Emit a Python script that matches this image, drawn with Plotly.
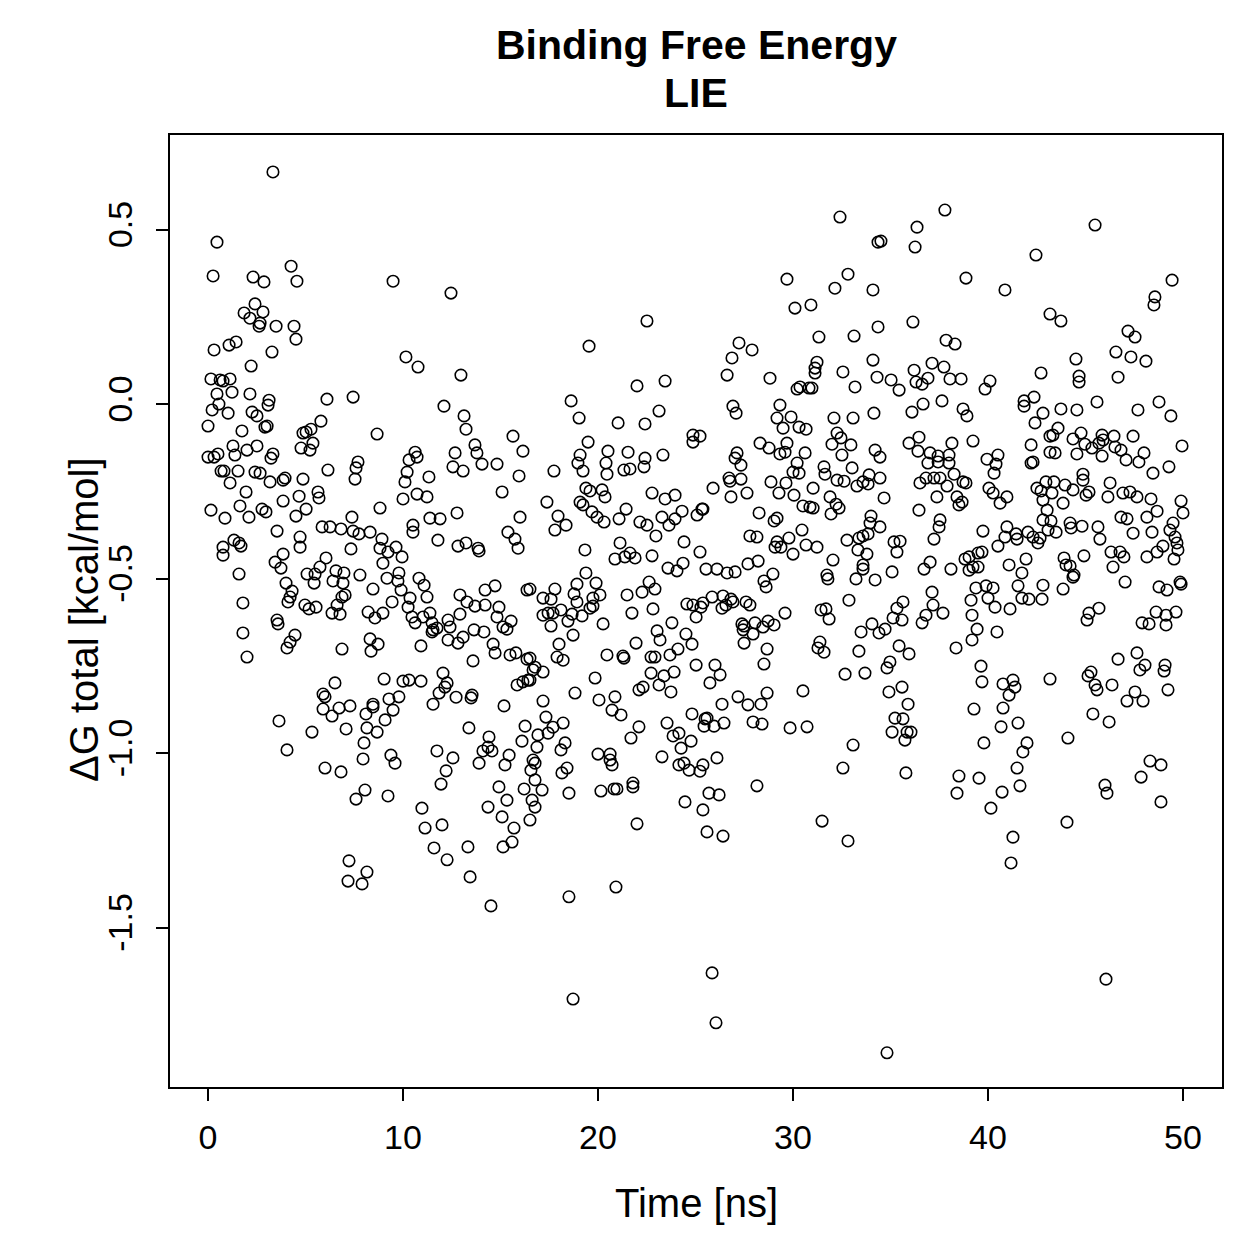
import plotly.graph_objects as go

# ---- data: (time [ns], dG total [kcal/mol]), grouped by time/energy region ----
time_a = [3.33,0.46,0.26,2.31,2.87,4.26,4.56,2.41,1.85,2.82,2.15,2.67,2.62,3.49,4.41,4.51,0.31,1.08,1.44,3.28,
          2.21,0.15,0.62,0.77,1.13,0.46,1.23,2.15,3.13,3.08,6.10,7.44,0.21,0.56,1.03,2.26,2.51,2.92,3.03,5.79,
          0.0,1.74,4.87,5.03,5.28,5.38,4.77,5.23,0.0,0.31,0.51,1.28,1.38,2.0,2.51,3.23,3.33,7.69,7.59,7.54,
          0.67,0.82,1.54,2.41,2.67,1.13,3.18,3.85,3.95,4.87,6.15,1.95,4.67,3.85,5.64,5.69,0.15,0.87,1.64,2.10,
          2.77,2.97,4.51,5.03,7.38,3.54,4.72,4.72,5.85,6.26,6.82,7.44,7.74,8.31,0.77,0.77,1.33,1.59,1.69,7.33,
          1.59,3.44,3.85,3.74,4.0,4.31,4.21,4.10,1.79,5.08,5.49,5.44,5.74,6.05,6.56,6.41,6.97,6.92,7.03,6.87,7.79]
dg_a = [0.665,0.464,0.367,0.364,0.350,0.395,0.352,0.287,0.261,0.264,0.246,0.232,0.223,0.223,0.223,0.186,0.155,0.169,0.178,0.149,
        0.109,0.072,0.069,0.066,0.072,0.029,0.034,0.029,0.011,-0.003,0.014,0.020,-0.017,0.0,-0.026,-0.023,-0.034,-0.066,-0.063,-0.049,
        -0.063,-0.077,-0.083,-0.080,-0.072,-0.112,-0.126,-0.132,-0.152,-0.152,-0.143,-0.120,-0.146,-0.132,-0.120,-0.155,-0.143,-0.166,-0.183,-0.215,
        -0.192,-0.192,-0.192,-0.195,-0.198,-0.226,-0.223,-0.218,-0.212,-0.215,-0.189,-0.252,-0.264,-0.278,-0.252,-0.269,-0.304,-0.327,-0.292,-0.324,
        -0.301,-0.309,-0.321,-0.301,-0.324,-0.364,-0.381,-0.410,-0.352,-0.352,-0.358,-0.364,-0.372,-0.367,-0.410,-0.433,-0.390,-0.398,-0.407,-0.415,
        -0.487,-0.453,-0.430,-0.470,-0.513,-0.536,-0.553,-0.567,-0.570,-0.487,-0.487,-0.513,-0.467,-0.441,-0.478,-0.507,-0.484,-0.513,-0.547,-0.553,-0.490]

time_b = [4.97,5.18,5.54,6.36,6.62,6.77,3.54,3.59,1.79,2.0,4.46,4.21,4.05,6.87,6.51,5.90,6.0,5.90,6.36,6.72,
          7.28,3.64,5.33,7.08,4.05,6.0,6.82,7.59,7.23,7.18,7.90,8.15]
dg_b = [-0.576,-0.587,-0.582,-0.599,-0.576,-0.602,-0.619,-0.630,-0.656,-0.725,-0.662,-0.682,-0.699,-0.702,-0.799,-0.831,-0.839,-0.874,-0.894,-0.871,
        -0.865,-0.908,-0.940,-0.931,-0.991,-1.043,-1.054,-1.132,-1.309,-1.367,-1.375,-1.341]

time_c = [9.49,12.46,10.15,10.77,12.97,12.10,13.13,13.23,8.67,13.69,13.79,14.05,14.82,15.64,16.15,15.95,15.08,16.0,10.62,10.72,
          10.31,10.21,10.10,11.33,12.67,12.56,13.08,10.0,10.72,11.23,8.82,11.38,11.90,12.77,10.51,10.51,11.79,8.92,8.82,9.23,
          9.64,9.95,8.97,12.82,13.23,13.85,13.90,15.38,15.74,15.90,8.46,9.18,9.79,9.74,9.90,10.36,10.82,11.08,11.23,12.92,
          13.28,13.69,14.21,14.72,14.21,14.92,16.36]
dg_c = [0.352,0.318,0.135,0.106,0.083,-0.006,-0.034,-0.072,-0.086,-0.117,-0.140,-0.172,-0.172,-0.092,-0.135,-0.206,-0.252,-0.324,-0.138,-0.152,
        -0.160,-0.195,-0.223,-0.209,-0.140,-0.180,-0.192,-0.272,-0.258,-0.266,-0.298,-0.327,-0.329,-0.312,-0.347,-0.367,-0.390,-0.387,-0.413,-0.424,
        -0.410,-0.438,-0.456,-0.407,-0.398,-0.413,-0.421,-0.367,-0.387,-0.413,-0.530,-0.499,-0.484,-0.507,-0.533,-0.556,-0.499,-0.519,-0.553,-0.547,
        -0.567,-0.579,-0.533,-0.521,-0.576,-0.582,-0.533]

time_d = [8.21,8.56,8.97,9.44,10.26,10.46,10.62,11.03,11.38,11.49,11.54,11.49,11.74,12.31,12.41,12.92,14.82,15.13,15.54,15.33,
          8.31,8.72,8.36,10.92,12.31,12.82,13.08,13.64,14.15,14.62,14.72,15.49,15.79,16.36,16.67,13.59,9.03,10.0,10.31,10.92,
          12.05,12.26,12.15,11.85,11.54,12.72,13.54,13.49,15.18,15.85,16.15,16.41,9.79,9.28,8.46,8.46,8.10,9.49,9.08,8.15,
          8.67,8.0,7.95,9.38,9.59,8.05,9.23,11.74,12.56,12.21,11.95,13.38,14.41,14.36,14.10,14.56,13.90,15.23,15.44,16.26,
          16.10,16.92,16.87,16.67,16.56,16.77,14.92,15.33,16.21,16.62,16.77,16.51,14.36,15.08,15.69,15.59,15.13,10.97,11.13,12.0,
          11.59,12.26,13.33,13.44,14.51]
dg_d = [-0.596,-0.613,-0.599,-0.567,-0.582,-0.610,-0.627,-0.610,-0.599,-0.627,-0.647,-0.653,-0.642,-0.619,-0.639,-0.602,-0.610,-0.639,-0.622,-0.645,
        -0.673,-0.688,-0.708,-0.693,-0.676,-0.685,-0.668,-0.647,-0.653,-0.688,-0.713,-0.719,-0.713,-0.731,-0.762,-0.736,-0.788,-0.794,-0.791,-0.794,
        -0.771,-0.799,-0.811,-0.828,-0.860,-0.840,-0.834,-0.842,-0.865,-0.805,-0.796,-0.791,-0.839,-0.845,-0.860,-0.868,-0.888,-0.877,-0.905,-0.928,
        -0.940,-0.971,-1.017,-1.006,-1.029,-1.106,-1.123,-0.994,-1.014,-1.051,-1.089,-0.928,-0.954,-0.983,-0.994,-0.994,-1.029,-1.034,-1.006,-0.923,
        -0.966,-0.948,-0.983,-1.020,-1.049,-1.077,-1.097,-1.135,-1.103,-1.135,-1.155,-1.192,-1.155,-1.183,-1.215,-1.255,-1.269,-1.158,-1.215,-1.206,
        -1.272,-1.306,-1.269,-1.355,-1.438]

time_e = [22.51,19.54,22.0,23.44,18.62,19.03,21.03,22.41,23.13,24.87,24.87,19.49,19.08,18.97,19.23,17.74,20.51,20.41,20.46,21.54,
          21.33,21.64,22.41,22.36,23.33,19.38,19.59,20.21,20.36,19.08,19.23,17.38,17.95,18.36,17.79,19.69,19.95,20.31,21.44,21.08,
          22.15,22.51,22.77,23.44,23.95,23.28,23.64,23.95,24.31,25.08,25.33,22.97,19.33,21.13,21.64,21.38,21.90,20.87,22.77,24.41,
          25.23,23.59,24.05,24.36,19.38,18.92,19.90,17.79,17.18,17.59,16.51,18.77,19.74,20.10,21.49,22.26,22.62,22.92]
dg_e = [0.238,0.166,0.052,0.066,0.009,-0.040,-0.054,-0.057,-0.020,-0.089,-0.109,-0.109,-0.146,-0.169,-0.192,-0.192,-0.135,-0.169,-0.201,-0.138,
        -0.189,-0.186,-0.155,-0.180,-0.146,-0.241,-0.249,-0.246,-0.266,-0.281,-0.289,-0.281,-0.321,-0.347,-0.361,-0.309,-0.324,-0.338,-0.301,-0.329,
        -0.338,-0.347,-0.255,-0.272,-0.261,-0.324,-0.347,-0.329,-0.307,-0.318,-0.301,-0.378,-0.418,-0.398,-0.427,-0.438,-0.441,-0.444,-0.435,-0.395,
        -0.424,-0.470,-0.478,-0.456,-0.484,-0.516,-0.513,-0.530,-0.556,-0.559,-0.530,-0.544,-0.556,-0.547,-0.547,-0.539,-0.510,-0.530]

time_f = [17.18,17.44,17.69,18.10,17.59,18.67,18.92,18.46,19.18,19.59,19.74,20.26,21.74,22.82,24.56,24.87,25.28,25.03,23.79,23.03,
          23.18,21.95,24.51,24.82,24.10,23.69,22.72,22.92,20.46,21.28,21.33,18.0,18.72,17.90,18.21,16.51,16.77,17.18,16.51,19.85,
          18.82,20.05,20.87,20.72,21.18,22.31,22.10,22.72,23.13,23.38,23.90,23.74,25.03,17.18,17.33,17.69,18.21,17.44,16.77,17.13,
          18.31,18.10,18.41,18.15,18.51,20.0,20.62,20.72,20.62,20.15,20.82,20.97,21.79,21.79,21.69,22.10,22.0,23.54,23.85,24.15,
          24.26,24.77,24.82,25.49,25.44,23.28,24.15,24.41,24.67,25.23,25.38,25.69,24.46,25.38,18.51,20.92,18.72]
dg_f = [-0.605,-0.599,-0.599,-0.590,-0.636,-0.602,-0.567,-0.622,-0.607,-0.585,-0.579,-0.630,-0.599,-0.587,-0.573,-0.576,-0.582,-0.610,-0.627,-0.650,
        -0.676,-0.685,-0.659,-0.688,-0.702,-0.719,-0.725,-0.725,-0.719,-0.722,-0.728,-0.688,-0.662,-0.725,-0.734,-0.728,-0.754,-0.768,-0.791,-0.785,
        -0.828,-0.848,-0.839,-0.877,-0.891,-0.811,-0.819,-0.771,-0.805,-0.779,-0.768,-0.825,-0.748,-0.851,-0.897,-0.926,-0.914,-0.943,-1.029,-1.106,
        -0.971,-0.991,-1.043,-1.057,-1.115,-1.003,-1.003,-1.034,-1.020,-1.109,-1.103,-1.103,-1.086,-1.097,-0.957,-0.925,-1.203,-0.914,-0.951,-0.943,
        -0.986,-0.966,-0.888,-0.902,-0.923,-1.011,-1.034,-1.029,-1.049,-1.052,-1.034,-1.115,-1.140,-1.163,-1.412,-1.384,-1.705]

time_g = [32.41,34.36,29.69,32.82,32.15,34.10,30.10,30.92,34.36,31.33,33.13,27.23,27.90,26.87,26.62,28.82,31.23,31.13,31.13,32.56,
          33.18,34.10,34.31,30.21,30.36,30.82,30.97,26.92,27.08,29.33,29.18,29.90,29.49,30.31,30.67,32.10,33.08,34.15,25.23,28.31,
          28.77,29.69,29.33,29.59,27.13,27.03,27.33,30.62,32.0,32.26,32.46,32.97,32.51,34.21,34.46,30.21,30.0,30.31,31.59,31.64,
          33.03,26.72,26.77,27.33,25.90,26.82,27.64,28.87,29.64,29.28,30.05,31.03,32.26,32.62,33.28,33.59,33.90,33.85,34.46,25.38,
          28.26,29.03,29.18,30.51,30.87,31.03,31.90,31.95,32.21,32.36,34.0,33.95,34.46,27.79,28.15,29.08,29.18,29.38,29.79,30.46,
          30.0,30.67,31.23,32.77,33.38,33.33,33.59,33.85,33.79,25.54,26.10,26.62,27.03,27.69,28.21,28.97,28.51,28.62,32.05,31.74,
          31.79,33.23,33.59,33.59,34.21,25.85,25.38,26.41,26.82,27.59,27.79,32.87]
dg_g = [0.536,0.464,0.358,0.372,0.332,0.327,0.275,0.284,0.221,0.192,0.195,0.175,0.155,0.132,0.083,0.074,0.120,0.103,0.089,0.092,
        0.049,0.126,0.077,0.043,0.049,0.046,0.046,-0.006,-0.026,-0.003,-0.040,-0.037,-0.069,-0.066,-0.072,-0.040,-0.040,-0.026,-0.092,-0.112,
        -0.126,-0.112,-0.143,-0.138,-0.140,-0.155,-0.175,-0.140,-0.115,-0.083,-0.097,-0.117,-0.146,-0.132,-0.152,-0.169,-0.195,-0.198,-0.180,-0.201,
        -0.183,-0.212,-0.221,-0.215,-0.241,-0.266,-0.255,-0.223,-0.226,-0.255,-0.261,-0.241,-0.218,-0.221,-0.235,-0.223,-0.203,-0.229,-0.212,-0.301,
        -0.312,-0.335,-0.327,-0.292,-0.295,-0.298,-0.266,-0.315,-0.287,-0.298,-0.321,-0.341,-0.352,-0.378,-0.381,-0.410,-0.395,-0.410,-0.384,-0.361,
        -0.430,-0.404,-0.410,-0.390,-0.384,-0.418,-0.378,-0.372,-0.430,-0.473,-0.473,-0.484,-0.481,-0.458,-0.450,-0.487,-0.507,-0.524,-0.447,-0.490,
        -0.501,-0.501,-0.473,-0.461,-0.504,-0.553,-0.570,-0.550,-0.559,-0.567,-0.576,-0.562]

time_h = [26.36,26.56,26.92,27.38,27.49,27.44,27.95,28.05,28.46,28.72,29.03,29.59,31.44,31.69,31.85,27.49,28.67,31.38,31.28,31.59,
          33.49,34.05,34.41,33.38,26.0,26.26,25.74,28.51,32.67,33.69,30.51,27.18,27.69,28.36,28.67,26.36,25.59,25.95,26.46,27.95,
          28.41,29.85,30.72,33.08,32.56,26.10,28.15,26.21,25.59,26.41,31.49,32.82,25.85,26.05]
dg_h = [-0.585,-0.576,-0.567,-0.630,-0.636,-0.647,-0.659,-0.627,-0.639,-0.622,-0.633,-0.599,-0.590,-0.587,-0.616,-0.685,-0.702,-0.682,-0.699,-0.711,
        -0.653,-0.630,-0.656,-0.708,-0.748,-0.776,-0.799,-0.745,-0.774,-0.771,-0.822,-0.839,-0.862,-0.860,-0.828,-0.860,-0.900,-0.923,-0.914,-0.911,
        -0.917,-0.928,-0.925,-0.977,-1.043,-1.014,-1.094,-1.120,-1.226,-1.238,-1.195,-1.252,-1.630,-1.773]

time_i = [37.79,36.36,34.51,36.26,42.46,38.87,40.87,36.15,43.18,37.85,38.31,35.03,35.44,36.21,36.31,36.62,36.92,37.13,37.74,38.05,
          38.62,39.85,40.10,42.72,41.85,41.85,42.36,42.82,42.41,36.10,36.67,37.64,38.72,38.92,35.95,36.46,36.41,37.03,36.92,37.44,
          37.44,38.0,38.0,38.15,39.23,36.51,36.82,37.23,37.54,37.90,38.26,38.72,38.87,37.38,38.41,38.51,38.67,34.67,36.46,39.95,
          40.51,40.41,40.31,40.05,40.26,40.62,40.97,42.21,42.21,42.31,43.18,43.18,42.97,42.51,42.72,42.82,43.03,42.82,43.08,35.18,
          35.49,35.33,37.54,37.49,37.23,39.74,40.51,40.97,40.87,41.44,41.49,42.05,42.31,42.56,42.67,37.03,36.72,38.10,35.08,38.82,
          39.03,39.23,39.49,39.69,39.49,39.03,41.08,41.95,41.74,42.82,41.54,37.13,35.64,35.33,37.18,39.38,39.90,40.26,39.13,40.0,
          41.74,42.10,42.77,40.36,41.13]
dg_i = [0.556,0.507,0.467,0.450,0.427,0.361,0.327,0.235,0.258,0.183,0.172,0.069,0.040,0.097,0.063,0.057,0.074,0.117,0.106,0.072,
        0.072,0.043,0.066,0.089,0.009,-0.006,0.020,-0.026,-0.054,-0.023,0.0,0.009,-0.014,-0.034,-0.112,-0.095,-0.135,-0.140,-0.169,-0.149,
        -0.166,-0.146,-0.169,-0.112,-0.106,-0.226,-0.212,-0.212,-0.212,-0.235,-0.201,-0.223,-0.226,-0.266,-0.266,-0.289,-0.281,-0.269,-0.304,-0.158,
        -0.146,-0.172,-0.198,-0.241,-0.255,-0.284,-0.266,-0.117,-0.169,-0.166,-0.092,-0.138,-0.223,-0.241,-0.249,-0.275,-0.304,-0.332,-0.361,-0.395,
        -0.393,-0.424,-0.332,-0.352,-0.387,-0.364,-0.407,-0.352,-0.381,-0.372,-0.387,-0.367,-0.381,-0.398,-0.384,-0.453,-0.473,-0.473,-0.481,-0.444,
        -0.438,-0.467,-0.427,-0.424,-0.467,-0.476,-0.461,-0.444,-0.484,-0.519,-0.521,-0.539,-0.567,-0.585,-0.576,-0.527,-0.521,-0.527,-0.562,-0.556,
        -0.556,-0.559,-0.559,-0.582,-0.587]

time_j = [35.13,35.59,34.72,36.82,36.62,37.69,39.18,39.44,39.18,40.46,38.36,35.44,35.95,34.97,34.82,34.92,35.59,35.90,35.23,35.64,
          35.08,35.85,36.05,35.74,35.79,39.64,39.69,40.77,41.28,41.38,41.08,39.28,40.77,40.67,41.54,39.79,42.0,41.79,41.49,41.64,
          38.51,39.54,38.41,40.72,40.15,41.28,41.18,43.18,34.82]
dg_j = [-0.613,-0.619,-0.645,-0.605,-0.627,-0.599,-0.605,-0.645,-0.676,-0.653,-0.699,-0.693,-0.716,-0.739,-0.756,-0.825,-0.811,-0.860,-0.900,-0.902,
        -0.940,-0.940,-0.940,-0.963,-1.057,-0.751,-0.796,-0.802,-0.791,-0.811,-0.834,-0.874,-0.871,-0.925,-0.914,-0.971,-0.971,-0.997,-1.043,-1.094,
        -1.066,-1.072,-1.115,-1.112,-1.158,-1.241,-1.315,-0.788,-1.859]

time_k = [45.49,49.44,48.56,48.51,43.74,47.18,47.54,46.56,47.33,48.10,44.51,44.67,44.67,46.67,43.74,44.56,45.59,47.69,48.77,49.38,
          43.33,43.59,44.36,44.77,44.97,45.33,45.85,45.90,45.69,46.46,46.51,46.82,47.08,47.44,48.0,47.74,49.95,43.44,44.56,45.85,
          48.46,49.28,43.38,43.95,44.36,44.87,44.87,45.18,45.03,46.26,46.15,46.92,47.28,47.64,48.36,48.67,48.15,49.90,50.0,43.28,
          43.85,43.23,43.49,44.21,44.26,44.82,45.64,45.74,46.82,47.13,47.44,48.41,49.49,49.33,49.59,49.69,49.74,48.97,48.67,48.15,
          49.54,43.90,44.0,44.21,44.41,44.36,44.92,46.31,46.77,46.97,46.41,47.03,48.77,49.18,49.85,49.90,43.85]
dg_k = [0.513,0.355,0.307,0.284,0.238,0.209,0.192,0.149,0.135,0.123,0.129,0.080,0.063,0.077,-0.014,-0.017,0.006,-0.017,0.006,-0.034,
        -0.089,-0.069,-0.100,-0.083,-0.115,-0.126,-0.089,-0.103,-0.112,-0.092,-0.123,-0.132,-0.160,-0.092,-0.140,-0.166,-0.120,-0.140,-0.143,-0.149,
        -0.198,-0.180,-0.223,-0.232,-0.246,-0.201,-0.218,-0.252,-0.261,-0.226,-0.266,-0.255,-0.252,-0.266,-0.272,-0.307,-0.324,-0.278,-0.312,-0.255,
        -0.284,-0.335,-0.367,-0.341,-0.355,-0.350,-0.352,-0.387,-0.324,-0.329,-0.370,-0.367,-0.341,-0.361,-0.381,-0.398,-0.418,-0.407,-0.424,-0.438,
        -0.444,-0.441,-0.461,-0.464,-0.490,-0.496,-0.435,-0.424,-0.424,-0.438,-0.467,-0.510,-0.524,-0.533,-0.510,-0.516,-0.530]

time_l = [45.18,45.08,45.69,47.90,48.26,48.62,49.13,49.13,49.64,45.13,45.28,45.49,45.59,46.36,46.67,47.64,48.05,47.79,49.08,49.03,
          49.23,47.54,47.13,47.95,45.38,46.21,44.10,48.31,48.87,47.85,46.0,46.10,48.87,44.05,46.05]
dg_l = [-0.599,-0.619,-0.585,-0.627,-0.630,-0.596,-0.605,-0.633,-0.596,-0.779,-0.768,-0.805,-0.819,-0.805,-0.731,-0.713,-0.748,-0.762,-0.748,-0.765,
        -0.819,-0.825,-0.851,-0.851,-0.888,-0.911,-0.957,-1.023,-1.034,-1.069,-1.092,-1.115,-1.140,-1.198,-1.648]

x_ticks = [0, 10, 20, 30, 40, 50]
y_ticks = [-1.5, -1.0, -0.5, 0.0, 0.5]
y_tick_labels = ["-1.5", "-1.0", "-0.5", "0.0", "0.5"]

segments = [(time_a, dg_a), (time_b, dg_b), (time_c, dg_c), (time_d, dg_d), (time_e, dg_e), (time_f, dg_f),
            (time_g, dg_g), (time_h, dg_h), (time_i, dg_i), (time_j, dg_j), (time_k, dg_k), (time_l, dg_l)]
time_all, dg_all = [], []
for i, (t, g) in enumerate(segments):
    assert len(t) == len(g), (i, len(t), len(g))
    time_all += t
    dg_all += g

FONT = "Liberation Sans, Arial, sans-serif"

fig = go.Figure()
fig.add_trace(go.Scatter(
    x=time_all, y=dg_all, mode="markers",
    marker=dict(symbol="circle-open", size=11.5, color="black", line=dict(width=1.6, color="black")),
    hoverinfo="x+y", showlegend=False,
))

fig.update_layout(
    width=1259, height=1259,
    margin=dict(l=170, r=37, t=135, b=172),
    paper_bgcolor="white", plot_bgcolor="white",
    font=dict(family=FONT, size=34, color="black"),
    xaxis=dict(range=[-1.95, 52.0], tickvals=x_ticks, ticks="outside", ticklen=12, tickwidth=2,
               tickcolor="black", showgrid=False, zeroline=False, showline=True, linecolor="black",
               linewidth=2, mirror=True, ticklabelstandoff=7, tickfont=dict(size=34, family=FONT)),
    yaxis=dict(range=[-1.957, 0.771], tickvals=y_ticks, ticktext=y_tick_labels, ticks="outside",
               ticklen=12, tickwidth=2, tickcolor="black", showgrid=False, zeroline=False,
               showline=True, linecolor="black", linewidth=2, mirror=True, tickangle=-90,
               ticklabelstandoff=10, tickfont=dict(size=34, family=FONT)),
    annotations=[
        dict(text="<b>Binding Free Energy</b>", xref="paper", yref="paper", x=0.5, y=(1087 - 45) / 952,
             showarrow=False, xanchor="center", yanchor="middle", font=dict(size=41, family=FONT)),
        dict(text="<b>LIE</b>", xref="paper", yref="paper", x=0.5, y=(1087 - 93) / 952,
             showarrow=False, xanchor="center", yanchor="middle", font=dict(size=41, family=FONT)),
        dict(text="Time [ns]", xref="paper", yref="paper", x=0.5, y=(1087 - 1203) / 952,
             showarrow=False, xanchor="center", yanchor="middle", font=dict(size=40, family=FONT)),
        dict(text="ΔG total [kcal/mol]", xref="paper", yref="paper", x=(84 - 170) / 1052, y=(1087 - 620) / 952,
             showarrow=False, xanchor="center", yanchor="middle", textangle=-90, font=dict(size=40, family=FONT)),
    ],
)

fig.write_html("out.html")
